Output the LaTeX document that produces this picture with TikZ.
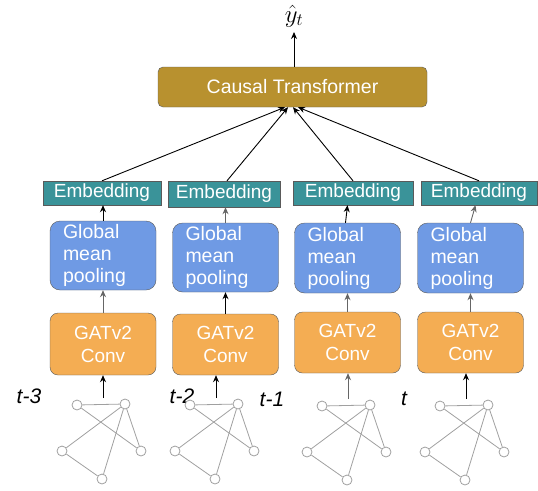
\documentclass[tikz,border=0pt]{standalone}
\usepackage{fontspec}
\setmainfont{Liberation Sans}
\usetikzlibrary{arrows.meta}
\definecolor{ctgold}{HTML}{B8912F}
\definecolor{embteal}{HTML}{3A9399}
\definecolor{poolblue}{HTML}{6F9AE4}
\definecolor{gatorange}{HTML}{F4AD53}
\definecolor{boxline}{HTML}{5A5A5A}
\definecolor{edgegray}{HTML}{A0A0A0}
\definecolor{arrgray}{HTML}{666666}
\begin{document}
\begin{tikzpicture}[x=1pt,y=-1pt,
  ctbox/.style={draw=boxline,fill=ctgold,rounded corners=5pt,minimum width=269pt,minimum height=40pt,text=white,font=\fontsize{19.5}{22}\selectfont,inner sep=0pt},
  embbox/.style={draw=boxline,fill=embteal,minimum height=24pt,text=white,font=\fontsize{19}{22}\selectfont,inner sep=0pt},
  poolbox/.style={draw=boxline,fill=poolblue,rounded corners=10pt,minimum width=106pt,minimum height=70pt,text=white,font=\fontsize{19.5}{22}\selectfont,align=left,text width=80pt,inner xsep=13pt,inner ysep=0pt},
  gatbox/.style={draw=boxline,fill=gatorange,rounded corners=8pt,minimum width=106pt,minimum height=61pt,text=white,font=\fontsize{19}{23}\selectfont,align=center,inner sep=0pt},
  arr/.style={-{Stealth[length=7pt,width=6pt]},line width=0.9pt,black},
  garr/.style={-{Stealth[length=7pt,width=6pt]},line width=0.9pt,arrgray},
  gnode/.style={circle,draw=edgegray,fill=white,line width=0.8pt,minimum size=10pt,inner sep=0pt},
  gedge/.style={edgegray,line width=0.8pt},
  tlab/.style={font=\fontsize{21}{24}\selectfont\itshape,text=black,inner sep=0pt}
]
\useasboundingbox (0,0) rectangle (538,490);

% Causal Transformer
\node[ctbox] (ct) at (292.5,87) {Causal Transformer};
\node[inner sep=0pt,font=\fontsize{25}{28}\selectfont] (yhat) at (294,16) {$\hat{y}_t$};
\draw[arr] (ct.north -| yhat) -- (294,32);

% Embeddings
\node[embbox,minimum width=118pt] (emb1) at (102,193) {Embedding};
\node[embbox,minimum width=112pt,minimum height=26pt] (emb2) at (224,194) {Embedding};
\node[embbox,minimum width=120pt] (emb3) at (353,193) {Embedding};
\node[embbox,minimum width=116pt] (emb4) at (479,193) {Embedding};

% Pooling
\node[poolbox,minimum height=69pt] (pool1) at (103,255.5) {Global\\mean\\pooling};
\node[poolbox,minimum height=69pt] (pool2) at (225.5,257.5) {Global\\mean\\pooling};
\node[poolbox] (pool3) at (347.5,258) {Global\\mean\\pooling};
\node[poolbox] (pool4) at (470.5,258) {Global\\mean\\pooling};

% GATv2
\node[gatbox,minimum height=62pt] (gat1) at (103,344) {GATv2\\Conv};
\node[gatbox] (gat2) at (225.5,344.5) {GATv2\\Conv};
\node[gatbox] (gat3) at (347.5,342.5) {GATv2\\Conv};
\node[gatbox] (gat4) at (470.5,342.5) {GATv2\\Conv};

% Embedding -> transformer
\draw[arr] (emb1.north) -- ([xshift=-7.5pt]ct.south);
\draw[arr] ([xshift=3pt]emb2.north) -- ([xshift=-4.5pt]ct.south);
\draw[arr] (emb3.north) -- ([xshift=0.5pt]ct.south);
\draw[arr] (emb4.north) -- ([xshift=5.5pt]ct.south);

% Pool -> embedding
\draw[arr] (pool1.north) -- (emb1.south -| pool1.north);
\draw[garr] (pool2.north) -- (emb2.south -| pool2.north);
\draw[arr] ([xshift=-2pt]pool3.north) -- (emb3.south -| pool3.north);
\draw[garr] (pool4.north) -- ([xshift=5pt]emb4.south -| pool4.north);

% GAT -> pool
\draw[garr] (gat1.north) -- (pool1.south);
\draw[arr] (gat2.north) -- (pool2.south);
\draw[garr] (gat3.north) -- (pool3.south);
\draw[garr] (gat4.north) -- (pool4.south);

% Time labels
\node[tlab] (l1) at (29,396) {t-3};
\node[tlab] (l2) at (182,396) {t-2};
\node[tlab] (l3) at (272,399) {t-1};
\node[tlab] (l4) at (404,399) {t};

% Graphs
\foreach \i/\dx/\dy/\col in {1/0/0/black, 2/113/0/black, 3/245/1/arrgray, 4/363/1/black}{
  \begin{scope}[shift={(\dx,\dy)}]
    \node[gnode] (a\i) at (77,405) {};
    \node[gnode] (b\i) at (125,404) {};
    \node[gnode] (c\i) at (62,451) {};
    \node[gnode] (d\i) at (141,451) {};
    \node[gnode] (e\i) at (102,479) {};
    \coordinate (s\i) at (103,398);
  \end{scope}
  \draw[gedge] (a\i) -- (b\i);
  \draw[gedge] (a\i) -- (d\i);
  \draw[gedge] (b\i) -- (c\i);
  \draw[gedge] (b\i) -- (e\i);
  \draw[gedge] (b\i) -- (d\i);
  \draw[gedge] (c\i) -- (e\i);
  \draw[-{Stealth[length=7pt,width=6pt]},line width=0.9pt,\col] (s\i) -- (s\i |- gat\i.south);
}
\end{tikzpicture}
\end{document}
